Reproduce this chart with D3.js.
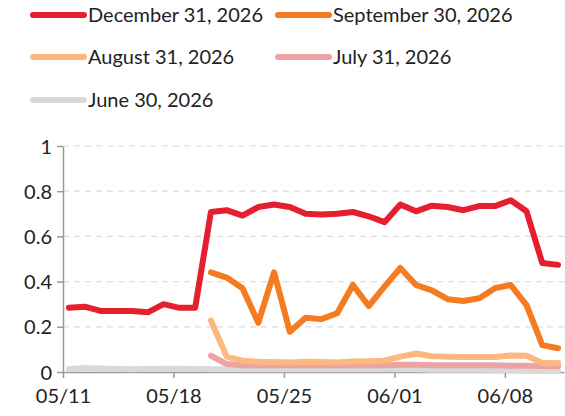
<!DOCTYPE html>
<html>
<head>
<meta charset="utf-8">
<script src="https://cdn.jsdelivr.net/npm/d3@7"></script>
<style>
  body { margin: 0; background: #fff; }
  svg { display: block; font-family: "Lato", sans-serif; }
</style>
</head>
<body>
<div id="chart"></div>
<script>
// observation dates (2026), one per day
var dates = ["05-11","05-12","05-13","05-14","05-15","05-16","05-17","05-18",
             "05-19","05-20","05-21","05-22","05-23","05-24","05-25","05-26",
             "05-27","05-28","05-29","05-30","05-31","06-01","06-02","06-03",
             "06-04","06-05","06-06","06-07","06-08","06-09","06-10","06-11"];

var dec31 = [0.284,0.289,0.270,0.270,0.270,0.264,0.300,0.284,0.284,0.708,0.716,0.692,
             0.730,0.741,0.730,0.700,0.697,0.700,0.708,0.689,0.663,0.741,0.711,0.736,
             0.730,0.716,0.734,0.734,0.760,0.711,0.482,0.474];
var sep30 = [null,null,null,null,null,null,null,null,null,0.441,0.418,0.371,
             0.218,0.441,0.178,0.240,0.234,0.260,0.385,0.292,0.378,0.460,0.385,0.361,
             0.322,0.314,0.326,0.371,0.385,0.296,0.119,0.105];
var aug31 = [null,null,null,null,null,null,null,null,null,0.228,0.068,0.050,
             0.045,0.044,0.042,0.045,0.044,0.042,0.047,0.048,0.050,0.068,0.082,0.070,
             0.068,0.066,0.066,0.066,0.073,0.072,0.040,0.040];
var jul31 = [null,null,null,null,null,null,null,null,null,0.072,0.035,0.030,
             0.030,0.030,0.030,0.030,0.030,0.030,0.030,0.030,0.030,0.032,0.032,0.030,
             0.030,0.030,0.030,0.030,0.028,0.028,0.026,0.025];
var jun30 = [0.012,0.018,0.015,0.013,0.012,0.013,0.014,0.014,0.013,0.012,0.012,0.012,
             0.012,0.012,0.012,0.012,0.012,0.012,0.012,0.012,0.012,0.012,0.012,0.010,
             0.010,0.010,0.010,0.009,0.008,0.008,0.006,0.005];

var yTicks = [0, 0.2, 0.4, 0.6, 0.8, 1];
var xTicks = ["05-11","05-18","05-25","06-01","06-08"];

var series = [
  {name: "December 31, 2026", values: dec31, color: "#e51f2f"},
  {name: "September 30, 2026", values: sep30, color: "#f47b20"},
  {name: "August 31, 2026", values: aug31, color: "#fdb97d"},
  {name: "July 31, 2026", values: jul31, color: "#eba4a4"},
  {name: "June 30, 2026", values: jun30, color: "#d9d9d9"}
];

var W = 565, H = 416;
var margin = {top: 146, right: 1, bottom: 44, left: 63};
var width = W - margin.left - margin.right,
    height = H - margin.top - margin.bottom;

var parseDay = d3.timeParse("%Y-%m-%d");
var parseObs = d3.timeParse("%Y-%m-%dT%H:%M");
var obsDates = dates.map(d => parseObs("2026-" + d + "T09:00"));

var x = d3.scaleTime()
    .domain([parseDay("2026-05-11"), parseObs("2026-06-11T18:00")])
    .range([0, width]);
var y = d3.scaleLinear().domain([0, 1]).range([height, 0]);

var svg = d3.select("#chart").append("svg")
    .attr("width", W)
    .attr("height", H);
var g = svg.append("g")
    .attr("transform", "translate(" + margin.left + "," + margin.top + ")");

// gridlines
g.append("g").selectAll("line")
    .data(yTicks.filter(d => d > 0))
    .enter().append("line")
    .attr("x1", 0).attr("x2", width)
    .attr("y1", d => y(d)).attr("y2", d => y(d))
    .attr("stroke", "#dcdcdc")
    .attr("stroke-width", 1.2)
    .attr("stroke-dasharray", "6,5");

// axes
var yAxis = d3.axisLeft(y).tickValues(yTicks).tickSize(6).tickSizeOuter(0)
    .tickFormat(d => d === 0 ? "0" : d === 1 ? "1" : d3.format(".1f")(d));
var xAxis = d3.axisBottom(x)
    .tickValues(xTicks.map(d => parseDay("2026-" + d)))
    .tickSize(6).tickSizeOuter(0)
    .tickFormat(d3.timeFormat("%m/%d"));

var ya = g.append("g").call(yAxis);
var xa = g.append("g").attr("transform", "translate(0," + height + ")").call(xAxis);
[ya, xa].forEach(function(a) {
  a.select(".domain").attr("stroke", "#999").attr("stroke-width", 1.5);
  a.selectAll(".tick line").attr("stroke", "#999").attr("stroke-width", 1.5);
  a.selectAll("text").attr("fill", "#222").style("font-size", "20px")
    .style("font-family", "Lato, sans-serif");
});
ya.selectAll("text").attr("x", -11).attr("dy", "0.35em");
xa.selectAll("text").attr("y", 17);

// lines, bottom series drawn first
var line = d3.line()
    .defined(d => d.v != null)
    .x(d => x(d.date))
    .y(d => y(d.v));

series.slice().reverse().forEach(function(s) {
  var pts = s.values.map((v, i) => ({date: obsDates[i], v: v}));
  g.append("path")
    .datum(pts)
    .attr("fill", "none")
    .attr("stroke", s.color)
    .attr("stroke-width", 6)
    .attr("stroke-linejoin", "round")
    .attr("stroke-linecap", "round")
    .attr("d", line);
});

// legend
var legPos = [[33, 15], [278, 15], [33, 57], [278, 57], [33, 100]];
var leg = svg.append("g").selectAll("g")
    .data(series)
    .enter().append("g")
    .attr("transform", (d, i) => "translate(" + legPos[i][0] + "," + legPos[i][1] + ")");
leg.append("line")
    .attr("x1", 0).attr("x2", 51)
    .attr("stroke", d => d.color)
    .attr("stroke-width", 6)
    .attr("stroke-linecap", "round");
leg.append("text")
    .attr("x", 55)
    .attr("dy", "0.35em")
    .attr("fill", "#222")
    .style("font-size", "20px")
    .text(d => d.name);
</script>
</body>
</html>
